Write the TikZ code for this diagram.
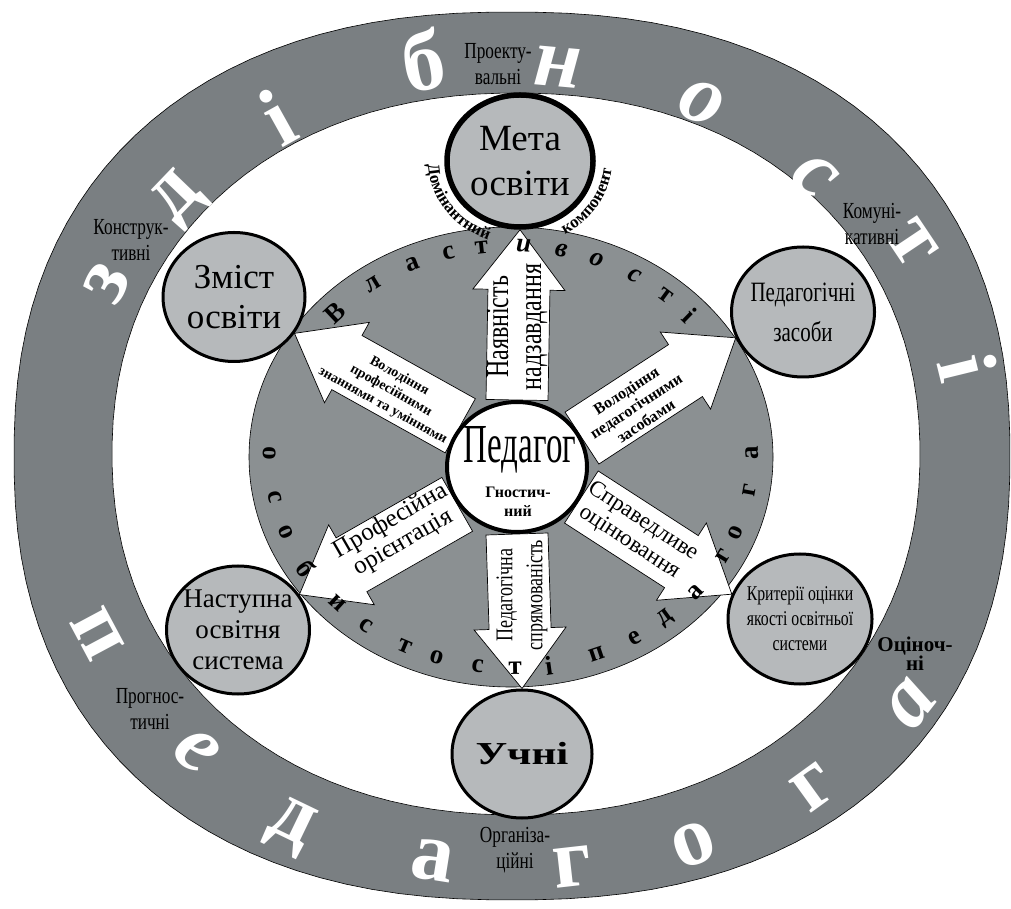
\documentclass[tikz,border=0pt]{standalone}
\usepackage{fontspec}
\setmainfont{Liberation Serif}
\newfontfamily\narrowfont[FakeStretch=0.75]{Liberation Serif}
\newfontfamily\slimfont[FakeStretch=0.6]{Liberation Serif}
\newfontfamily\widefont[FakeStretch=1.35]{Liberation Serif}
\usetikzlibrary{calc, backgrounds, shapes.geometric, decorations.text}

\definecolor{ringgray}{RGB}{122,127,130}
\definecolor{midgray}{RGB}{139,144,146}
\definecolor{goalgray}{RGB}{182,185,187}

\newcommand\fsz[2]{\fontsize{#1}{#2}\selectfont}
\newcommand\domfont{\bfseries\fontsize{17}{17}\selectfont}

% white block arrow from #1 (on the teacher node) to #2
\newcommand\blockarrow[2]{%
  \coordinate (neck) at ($(#2)!60pt!(#1)$);
  \draw[fatarrow] ($(#1)!31pt!90:(#2)$) -- ($(neck)!31pt!90:(#2)$) -- ($(neck)!46pt!90:(#2)$) -- (#2)
    -- ($(neck)!46pt!-90:(#2)$) -- ($(neck)!31pt!-90:(#2)$) -- ($(#1)!31pt!-90:(#2)$) -- cycle;
}

\tikzset{
  every node/.style={inner sep=0pt},
  ringband/.style={draw=black, line width=0.6pt, fill=ringgray},
  hole/.style={draw=black, line width=0.6pt, fill=white},
  traits/.style={draw=black, line width=0.6pt, fill=midgray},
  goal/.style={
    ellipse, draw=black, line width=3pt, fill=goalgray, inner sep=-12pt,
    minimum width=142pt, minimum height=129pt, align=center
  },
  teacher/.style={goal, fill=white, line width=4pt, minimum width=140pt, minimum height=130pt},
  fatarrow/.style={draw=black, fill=white, line width=0.7pt},
  bigletter/.style={text=white, font=\bfseries\fsz{85}{85}},
  smallletter/.style={text=black, font=\bfseries\fsz{27}{27}},
  ringlabel/.style={align=center, font=\narrowfont\fsz{23}{26}},
  arrlabel/.style={align=center},
}

\begin{document}
\begin{tikzpicture}[x=1pt, y=1pt]
  \useasboundingbox (0,0) rectangle (1011,908);
  \coordinate (mid) at (511,451);

  % nodes
  \node[goal, line width=5.5pt, minimum width=146pt, minimum height=132pt, font=\fsz{37}{45}] (meta) at (520,747) {Мета\\освіти};
  \node[goal, font=\fsz{35}{40}] (zmist) at (234,611) {Зміст\\освіти};
  \node[goal, minimum width=143pt, minimum height=130pt, font=\narrowfont\fsz{28}{40}] (zasoby) at (803,596) {Педагогічні\\засоби};
  \node[goal, minimum width=143pt, minimum height=128pt, font=\fsz{27}{31}] (nastupna) at (238,278) {Наступна\\освітня\\система};
  \node[goal, minimum width=144pt, minimum height=130pt, font=\narrowfont\fsz{21}{25}] (kryterii) at (800,289) {Критерії оцінки\\якості освітньої\\системи};
  \node[goal, minimum width=140pt, minimum height=128pt, font=\widefont\bfseries\fsz{32}{32}] (uchni) at (522,154) {Учні};
  \node[teacher] (ped) at (517,441) {};
  \node[font=\slimfont\fsz{55}{55}] (pedname) at ($(ped.center)+(3,17)$) {Педагог};
  \node[align=center, font=\bfseries\fsz{16}{19}] (gnost) at ($(ped.center)+(1,-35)$) {Гностич-\\ний};

  \begin{scope}[on background layer]
    % ring
    \draw[ringband] plot[domain=1.5:361.5, samples=121, variable=\t]
      ({512+498*cos(\t)*abs(cos(\t))^(-0.13)}, {452+444*sin(\t)*abs(sin(\t))^(-0.13)}) -- cycle;
    \draw[hole] plot[domain=1.5:361.5, samples=121, variable=\t]
      ({516+404*cos(\t)*abs(cos(\t))^(-0.07)}, {454+361*sin(\t)*abs(sin(\t))^(-0.07)}) -- cycle;
    \foreach \x/\y/\l in {107/625/з, 180/708/д, 277/791/і, 423/848/б, 558/841/{\textit{н}}, 702/805/{\textit{о}}, 815/731/{\textit{с}}, 912/665/т, 968/541/і}{
      \pgfmathsetmacro\lrot{atan2((\y-452)*1.119, (\x-514)*0.8936) - 90}
      \node[bigletter, rotate=\lrot] (z-\x) at (\x,\y) {\l};
    }
    \foreach \x/\y/\l in {97/274/п, 197/157/{\textit{е}}, 290/81/д, 433/47/а, 572/41/г, 694/63/о, 814/121/г, 911/204/{\textit{а}}}{
      \pgfmathsetmacro\lrot{atan2((\y-452)*1.119, (\x-514)*0.8936) + 90}
      \node[bigletter, rotate=\lrot] (p-\x) at (\x,\y) {\l};
    }
    % traits
    \draw[traits] (mid) ellipse [x radius=262, y radius=230];
    % arrows
    \blockarrow{ped.90}{meta.south}
    \blockarrow{ped.270}{uchni.north}
    \blockarrow{ped.144}{zmist.329}
    \blockarrow{ped.24}{zasoby.201}
    \blockarrow{ped.212}{nastupna.30}
    \blockarrow{ped.335}{kryterii.160}
    \foreach \a/\l in {137/В, 125/л, 114/а, 105/с, 97/т, 87/{\textit{и}}, 78/{\textit{в}}, 69/{\textit{о}}, 59/{\textit{с}}, 50/т, 42/і}{
      \pgfmathsetmacro\lrot{atan2(241*sin(\a), 211*cos(\a)) - 90}
      \node[smallletter, rotate=\lrot] (v-\a) at ($(mid)+(\a:241 and 211)$) {\l};
    }
    \foreach \a/\l in {179/о, 191/с, 201/о, 212/б, 224/и, 233/с, 244/т, 252/о, 262/с, 271/т, 279/і, 291/п, 301/е, 310/д, 320/а, 332/г, 339/о, 351/г, 361/а}{
      \pgfmathsetmacro\lrot{atan2(241*sin(\a), 211*cos(\a)) + 90}
      \node[smallletter, rotate=\lrot] (o-\a) at ($(mid)+(\a:241 and 211)$) {\l};
    }
  \end{scope}

  % arrow labels
  \node[arrlabel, rotate=90, font=\narrowfont\fsz{32}{33}] (t-up) at (517,581) {Наявність\\надзавдання};
  \node[arrlabel, rotate=90, font=\narrowfont\fsz{24}{30}] (t-down) at (522,313) {Педагогічна\\спрямованість};
  \node[arrlabel, rotate=-29, font=\bfseries\fsz{14}{17}] (t-ul) at (391,517) {Володіння\\професійними\\знаннями та уміннями};
  \node[arrlabel, rotate=33, font=\bfseries\fsz{16}{18}] (t-ur) at (636,502) {Володіння\\педагогічними\\засобами};
  \node[arrlabel, rotate=30, font=\fsz{25}{25}] (t-ll) at (397,376) {Професійна\\орієнтація};
  \node[arrlabel, rotate=-33, font=\fsz{23}{25}] (t-lr) at (636,376) {Справедливе\\оцінювання};

  % around the goal
  \path[decorate, decoration={text along path, text align=center, text={|\domfont|Домінантний}}]
    ($(meta.center)+(180:92 and 84)$) arc [start angle=180, end angle=252, x radius=92, y radius=84];
  \path[decorate, decoration={text along path, text align=center, text={|\domfont|компонент}}]
    ($(meta.center)+(292:92 and 84)$) arc [start angle=292, end angle=362, x radius=92, y radius=84];

  % ring labels
  \node[ringlabel] (l-proj) at (498,844) {Проекту-\\вальні};
  \node[ringlabel] (l-konstr) at (131,668) {Конструк-\\тивні};
  \node[ringlabel] (l-komun) at (872,684) {Комуні-\\кативні};
  \node[ringlabel] (l-prognos) at (150,199) {Прогнос-\\тичні};
  \node[ringlabel] (l-organiz) at (515,58) {Організа-\\ційні};
  \node[ringlabel, font=\bfseries\fsz{21}{19}] (l-otsin) at (915,254) {Оціноч-\\ні};
\end{tikzpicture}
\end{document}
